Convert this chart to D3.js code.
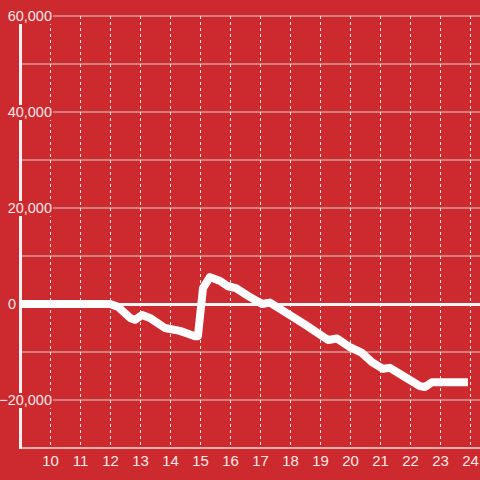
<!DOCTYPE html>
<html><head><meta charset="utf-8">
<script src="https://cdn.jsdelivr.net/npm/d3@7"></script>
<style>body{margin:0;background:#cc2a2e;}svg{display:block;}</style>
</head><body>
<svg id="c" width="480" height="480"></svg>
<script>
const hours = [9.0,10.0,11.0,12.0,12.27,12.67,12.83,13.07,13.33,13.83,14.33,14.6,14.83,14.93,15.1,15.33,15.67,15.93,16.2,16.6,17.07,17.33,18.0,18.53,19.27,19.57,20.0,20.4,20.73,21.1,21.33,21.83,22.33,22.5,22.73,23.93];
const values = [0,0,0,0,-600,-2900,-3300,-2300,-2900,-5000,-5600,-6200,-6700,-6700,3300,5600,4800,3700,3300,1700,0,300,-2300,-4400,-7500,-7200,-9000,-10200,-12100,-13500,-13300,-15200,-17100,-17300,-16300,-16300];
const xTicks = [10,11,12,13,14,15,16,17,18,19,20,21,22,23,24];
const yGrid = [-20000,-10000,0,10000,20000,30000,40000,50000,60000];
const yLabels = [-20000,0,20000,40000,60000];

const svg = d3.select('#c');
const W = 480, H = 480;
svg.append('rect').attr('width',W).attr('height',H).attr('fill','#cc2a2e');
const x = d3.scaleLinear().domain([9, 24.3333]).range([20, 480]);
const y = d3.scaleLinear().domain([-30000, 60000]).range([448, 16]);
const fmt = d3.format(',');

// horizontal gridlines
svg.append('g').selectAll('line').data(yGrid.filter(d=>d!==0)).join('line')
  .attr('x1', x(9)).attr('x2', W).attr('y1', d=>y(d)).attr('y2', d=>y(d))
  .attr('stroke', '#d6d6d6').attr('stroke-width', 1);
// vertical dashed gridlines
svg.append('g').selectAll('line').data(xTicks).join('line')
  .attr('x1', d=>Math.round(x(d))+0.5).attr('x2', d=>Math.round(x(d))+0.5)
  .attr('y1', y(60000)).attr('y2', y(-30000))
  .attr('stroke', '#e6e6e6').attr('stroke-width', 1).attr('stroke-dasharray','3,3');
// bottom axis
svg.append('line').attr('x1', x(9)).attr('x2', W).attr('y1', y(-30000)).attr('y2', y(-30000))
  .attr('stroke', '#dcdcdc').attr('stroke-width', 1.5);
// zero line
svg.append('line').attr('x1', x(9)).attr('x2', W).attr('y1', y(0)+0.5).attr('y2', y(0)+0.5)
  .attr('stroke', '#f4f4f4').attr('stroke-width', 3);
// left axis
svg.append('line').attr('x1', x(9)+0.5).attr('x2', x(9)+0.5).attr('y1', y(60000)).attr('y2', y(-30000)+1)
  .attr('stroke', '#f0f0f0').attr('stroke-width', 3);

// y labels with background boxes
const yl = svg.append('g').selectAll('g').data(yLabels).join('g')
  .attr('transform', d=>`translate(0,${y(d)})`);
yl.filter(d=>d!==0).append('rect').attr('x', 2).attr('y', -7).attr('width', 51).attr('height', 15).attr('fill','#cc2a2e');
yl.append('text')
  .attr('x', d=> d===0 ? 16 : 52)
  .attr('text-anchor','end').attr('dy','0.36em')
  .attr('font-family','"Liberation Sans", Arial, sans-serif').attr('font-size', 14.5)
  .attr('fill','#f6e8e8').text(d=>fmt(d));

// x labels
svg.append('g').selectAll('text').data(xTicks).join('text')
  .attr('x', d=>x(d)+0.5).attr('y', 466).attr('text-anchor','middle')
  .attr('font-family','"Liberation Sans", Arial, sans-serif').attr('font-size', 15)
  .attr('fill','#f6e8e8').text(d=>d);

// data line
const data = hours.map((h,i)=>({h, v: values[i]}));
svg.append('path').datum(data)
  .attr('d', d3.line().x(d=>x(d.h)).y(d=>y(d.v)))
  .attr('fill','none').attr('stroke','#ffffff').attr('stroke-width', 8)
  .attr('stroke-linejoin','round').attr('stroke-linecap','butt');
</script>
</body></html>
